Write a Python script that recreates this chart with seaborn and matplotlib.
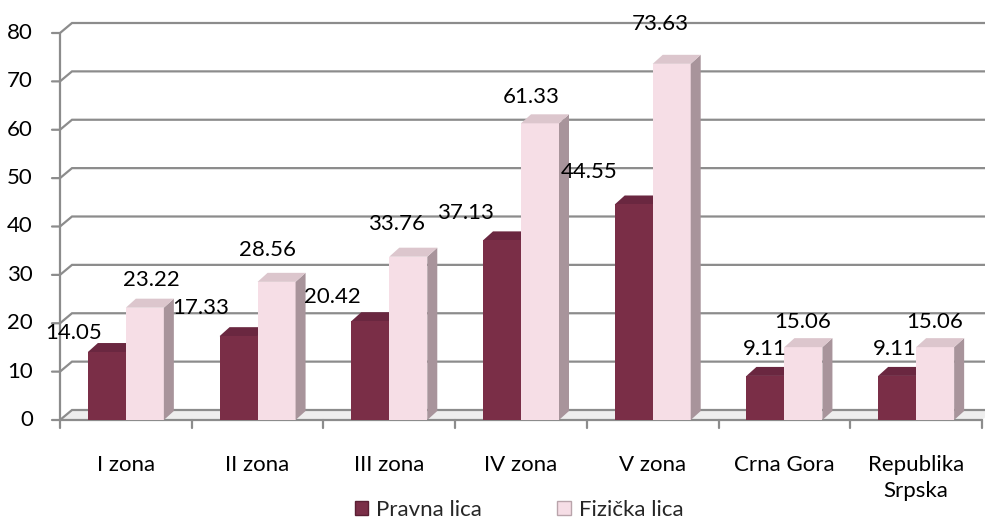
import numpy as np
import pandas as pd
import matplotlib
matplotlib.use("Agg")
import matplotlib.pyplot as plt
import seaborn as sns
from matplotlib.patches import Polygon, Patch
from matplotlib.lines import Line2D
from matplotlib.transforms import IdentityTransform

# ---------------- data ----------------
categories = ["I zona", "II zona", "III zona", "IV zona", "V zona", "Crna Gora", "Republika\nSrpska"]
series_names = ["Pravna lica", "Fizička lica"]
pravna = [14.05, 17.33, 20.42, 37.13, 44.55, 9.11, 9.11]
fizicka = [23.22, 28.56, 33.76, 61.33, 73.63, 15.06, 15.06]
yticks = [0, 10, 20, 30, 40, 50, 60, 70, 80]

# ---------------- style ----------------
DARK = "#7A2E47"
DARK_TOP = "#6A2740"
PINK = "#F6DEE6"
PINK_SIDE = "#A8949B"
PINK_TOP = "#DCC6CD"
GRID = "#8C8C8C"
FLOOR = "#EEEEEE"

# label offsets in pixels (dx, dy above bar top)
dark_lab_dx = [-33, -38, -38, -37, -45, -1, -2]
dark_lab_dy = [19, 28, 24, 27, 32, 27, 27]
pink_lab_dx = [7, -9, -12, -9, -11, -1, -1]
pink_lab_dy = [28, 32, 33, 26, 40, 25, 25]

DX, DY = 10, 9        # 3D depth of bars (px)
BX, BY = 12, 10       # back wall offset (px)

sns.set_theme(style="white")
plt.rcParams['font.family'] = ['Lato', 'DejaVu Sans']
FS = 16

W, H = 985, 521
fig = plt.figure(figsize=(W / 100, H / 100), dpi=100)
fig.patch.set_facecolor("white")
ax = fig.add_axes([60 / W, 1 - 420 / H, 922 / W, 387 / H])

df = pd.DataFrame({
    "cat": categories * 2,
    "val": pravna + fizicka,
    "series": [series_names[0]] * len(categories) + [series_names[1]] * len(categories),
})
sns.barplot(data=df, x="cat", y="val", hue="series", order=categories,
            hue_order=series_names, palette=[DARK, PINK], width=0.577, gap=0,
            saturation=1, errorbar=None, legend=False, linewidth=0, ax=ax, zorder=3)

ax.set_xlim(-0.5, len(categories) - 0.5)
ax.set_ylim(0, 80)
ax.set_autoscale_on(False)
for s in ax.spines.values():
    s.set_visible(False)
ax.set_xticks([])
ax.set_yticks([])
ax.set_xlabel("")
ax.set_ylabel("")
ax.patch.set_alpha(0)

ID = IdentityTransform()


def px(x, y):
    return ax.transData.transform((x, y))


x_left, y0 = px(-0.5, 0)
x_right, _ = px(len(categories) - 0.5, 0)

# floor
floor = Polygon([(x_left, y0), (x_right, y0), (x_right + BX, y0 + BY), (x_left + BX, y0 + BY)],
                closed=True, transform=ID, facecolor=FLOOR, edgecolor="none", zorder=1, clip_on=False)
ax.add_patch(floor)

# gridlines on back wall with diagonal joints + y ticks
for v in yticks:
    _, yv = px(0, v)
    ax.add_line(Line2D([x_left - 8, x_left, x_left + BX, x_right + BX + 20],
                       [yv, yv, yv + BY, yv + BY], transform=ID, color=GRID, lw=1.6,
                       zorder=1.2, clip_on=False, solid_joinstyle="miter"))
    ax.text(33, yv, str(v), transform=ID, ha="right", va="center", fontsize=FS, color="black")

# front axis lines
_, ytop = px(0, 80)
ax.add_line(Line2D([x_left, x_left], [y0, ytop], transform=ID, color=GRID, lw=1.6, zorder=2, clip_on=False))
ax.add_line(Line2D([x_left, x_right], [y0, y0], transform=ID, color=GRID, lw=1.6, zorder=2, clip_on=False))
for i in range(len(categories) + 1):
    xb, _ = px(i - 0.5, 0)
    ax.add_line(Line2D([xb, xb], [y0, y0 - 8], transform=ID, color=GRID, lw=1.6, zorder=2, clip_on=False))

# category labels
for i, c in enumerate(categories):
    xc, _ = px(i, 0)
    ax.text(xc, y0 - 35, c, transform=ID, ha="center", va="top", fontsize=FS,
            color="black", linespacing=1.4)

# 3D faces and value labels
specs = [
    (ax.containers[0], pravna, DARK_TOP, DARK, 2.5, dark_lab_dx, dark_lab_dy),
    (ax.containers[1], fizicka, PINK_TOP, PINK_SIDE, 3.5, pink_lab_dx, pink_lab_dy),
]
for cont, vals, topc, sidec, z, ldx, ldy in specs:
    for j, (rect, val) in enumerate(zip(cont.patches, vals)):
        x0d = rect.get_x()
        wd = rect.get_width()
        hd = rect.get_height()
        x0, yb = px(x0d, 0)
        x1, yt = px(x0d + wd, hd)
        side = Polygon([(x1, yb), (x1, yt), (x1 + DX, yt + DY), (x1 + DX, yb + DY)], closed=True,
                       transform=ID, facecolor=sidec, edgecolor="none", zorder=z, clip_on=False)
        top = Polygon([(x0, yt), (x1, yt), (x1 + DX, yt + DY), (x0 + DX, yt + DY)], closed=True,
                      transform=ID, facecolor=topc, edgecolor="none", zorder=z, clip_on=False)
        ax.add_patch(side)
        ax.add_patch(top)
        ax.text((x0 + x1) / 2 + ldx[j], yt + ldy[j], f"{val:.2f}", transform=ID,
                ha="center", va="center", fontsize=FS, color="black", zorder=5)

# legend
handles = [Patch(facecolor=DARK, edgecolor="#5a1f33"), Patch(facecolor=PINK, edgecolor="#b9a4ab")]
fig.legend(handles, series_names, loc="center", bbox_to_anchor=(519 / W, 1 - 510 / H),
           ncol=2, frameon=False, fontsize=FS, handlelength=0.6, handleheight=0.6,
           handletextpad=0.35, columnspacing=3.4, borderaxespad=0, borderpad=0)

fig.savefig("out.png", dpi=100, facecolor="white")
